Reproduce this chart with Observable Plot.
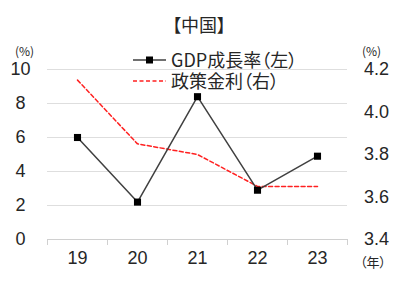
<!DOCTYPE html>
<html><head><meta charset="utf-8">
<script src="https://cdn.jsdelivr.net/npm/d3@7"></script>
<script src="https://cdn.jsdelivr.net/npm/@observablehq/plot@0.6"></script>
<style>
body{margin:0;background:#fff;}
#wrap{position:relative;width:415px;height:293px;font-family:"Liberation Sans","Noto Sans CJK JP",sans-serif;color:#262626;}
#wrap svg{position:absolute;left:0;top:0;}
.jp{font-family:"Noto Sans CJK JP",sans-serif;font-feature-settings:"palt";}
#title{position:absolute;left:0;width:398px;top:13px;text-align:center;font-size:18px;line-height:22px;}
.unit{position:absolute;font-size:12px;line-height:12px;}
#legend{position:absolute;left:133px;top:49px;font-size:18px;line-height:21px;}
#legend div{display:flex;align-items:center;height:21px;}
#legend svg{position:static;margin-right:5px;}
</style></head>
<body>
<div id="wrap">
  <div id="title" class="jp">【中国】</div>
  <div class="unit jp" style="left:15px;top:45px;">(%)</div>
  <div class="unit jp" style="left:362px;top:45px;">(%)</div>
  <div class="unit jp" style="left:360px;top:256px;font-size:13px;">（年）</div>
  <div id="legend" class="jp"></div>
</div>
<script>
const categories = ["19", "20", "21", "22", "23"];
const gdpGrowth = [6.0, 2.2, 8.4, 2.9, 4.9];       // left axis, %
const policyRate = [4.15, 3.85, 3.80, 3.65, 3.65]; // right axis, %
const leftTicks = [0, 2, 4, 6, 8, 10];
const rightTicks = [3.4, 3.6, 3.8, 4.0, 4.2];
const seriesNames = ["GDP成長率（左）", "政策金利（右）"];

const leftDomain = [0, 10];
const rightDomain = [3.4, 4.2];
const toLeft = r => leftDomain[0] + (r - rightDomain[0]) / (rightDomain[1] - rightDomain[0]) * (leftDomain[1] - leftDomain[0]);
const fromLeft = v => rightDomain[0] + (v - leftDomain[0]) / (leftDomain[1] - leftDomain[0]) * (rightDomain[1] - rightDomain[0]);

const rows = categories.map((c, i) => ({i, cat: c, gdp: gdpGrowth[i], rate: toLeft(policyRate[i])}));
const bounds = d3.range(categories.length + 1).map(i => i - 0.5);

const chart = Plot.plot({
  width: 415, height: 293,
  marginLeft: 47, marginRight: 68, marginTop: 69, marginBottom: 54,
  style: {fontFamily: "Liberation Sans, sans-serif", fontSize: "18px", color: "#262626", background: "transparent"},
  x: {type: "linear", domain: [-0.5, categories.length - 0.5], axis: null, label: null},
  y: {domain: leftDomain, axis: null, label: null},
  marks: [
    Plot.gridY(leftTicks.filter(d => d > 0), {stroke: "#dedede", strokeOpacity: 1}),
    Plot.ruleY([0], {stroke: "#d0d0d0"}),
    Plot.axisX(bounds, {tickSize: 6, tickFormat: () => "", stroke: "#d0d0d0", label: null}),
    Plot.axisX(rows.map(d => d.i), {tickSize: 0, tickPadding: 12, tickFormat: i => categories[i], fontSize: 18, label: null}),
    Plot.axisY(leftTicks, {anchor: "left", tickSize: 0, tickPadding: 27, textAnchor: "middle", fontSize: 18, label: null}),
    Plot.axisY(rightTicks.map(toLeft), {anchor: "right", tickSize: 0, tickPadding: 29, textAnchor: "middle", fontSize: 18, tickFormat: v => fromLeft(v).toFixed(1), label: null}),
    Plot.line(rows, {x: "i", y: "rate", stroke: "#ff2020", strokeWidth: 1.5, strokeDasharray: "4,2.5"}),
    Plot.line(rows, {x: "i", y: "gdp", stroke: "#404040", strokeWidth: 1.5}),
    Plot.dot(rows, {x: "i", y: "gdp", symbol: "square", r: 4, fill: "#000", stroke: "none"})
  ]
});
const wrap = document.getElementById("wrap");
wrap.insertBefore(chart, wrap.firstChild);

const legend = document.getElementById("legend");
legend.innerHTML =
  `<div><svg width="33" height="10"><line x1="0" x2="33" y1="5" y2="5" stroke="#404040" stroke-width="1.5"/><rect x="13" y="1.5" width="7" height="7" fill="#000"/></svg><span>${seriesNames[0]}</span></div>` +
  `<div><svg width="33" height="10"><line x1="0" x2="33" y1="5" y2="5" stroke="#ff2020" stroke-width="1.5" stroke-dasharray="4,2.5"/></svg><span>${seriesNames[1]}</span></div>`;
</script>
</body></html>
